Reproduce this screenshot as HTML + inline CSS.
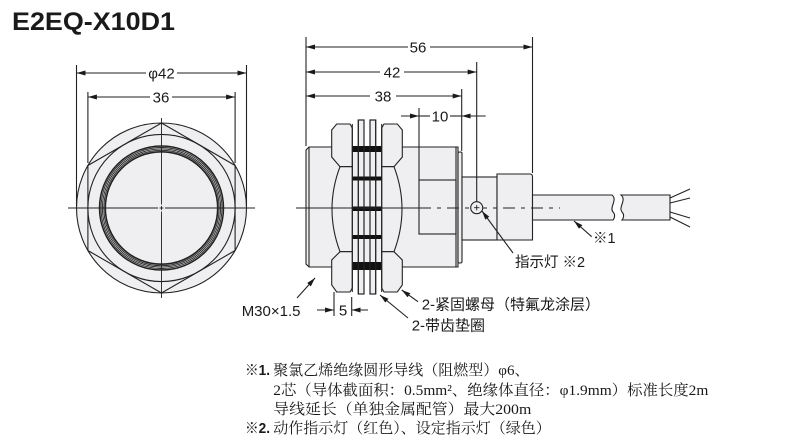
<!DOCTYPE html>
<html><head><meta charset="utf-8"><style>
html,body{margin:0;padding:0;background:#fff;}
svg{display:block;}
.s{font-family:"Liberation Sans","Noto Sans CJK SC",sans-serif;fill:#1a1a1a;}
.r{font-family:"Liberation Serif","Noto Serif CJK SC",serif;fill:#1a1a1a;}
</style></head><body>
<svg width="790" height="443" viewBox="0 0 790 443" xmlns="http://www.w3.org/2000/svg">
<defs>
<marker id="a" markerWidth="9" markerHeight="5" refX="9" refY="2.5" orient="auto" markerUnits="userSpaceOnUse"><path d="M0,0 L9,2.5 L0,5 z" fill="#1a1a1a"/></marker>
</defs>
<rect width="790" height="443" fill="#fff"/>

<!-- Title -->
<text x="12" y="30" class="s" font-size="25" font-weight="bold" fill="#111" textLength="163" lengthAdjust="spacingAndGlyphs">E2EQ-X10D1</text>

<!-- ===== FRONT VIEW ===== -->
<g stroke="#222" stroke-width="1.1" fill="none">
<circle cx="161.5" cy="208" r="85" fill="#efeff1"/>
<polygon points="161.5,123 235.1,165.5 235.1,250.5 161.5,293 87.9,250.5 87.9,165.5"/>
<circle cx="161.5" cy="208" r="73.6"/>
<circle cx="161.5" cy="208" r="62" stroke-width="1.5"/>
<circle cx="161.5" cy="208" r="60.5" stroke-width="0.9"/>
<circle cx="161.5" cy="208" r="59.1" stroke-width="0.9"/>
<circle cx="161.5" cy="208" r="57.7" stroke-width="0.9"/>
<circle cx="161.5" cy="208" r="56.2" stroke-width="1.6"/>
<!-- centre lines -->
<g stroke-width="0.9">
<line x1="68" y1="208" x2="158" y2="208"/>
<line x1="165" y1="208" x2="255" y2="208"/>
<line x1="161.5" y1="118" x2="161.5" y2="204.5"/>
<line x1="161.5" y1="211.5" x2="161.5" y2="298"/>
<line x1="159.5" y1="208" x2="163.5" y2="208"/>
<line x1="161.5" y1="206" x2="161.5" y2="210"/>
</g>
<!-- extension lines -->
<line x1="76.5" y1="65" x2="76.5" y2="206"/>
<line x1="246.5" y1="65" x2="246.5" y2="206"/>
<line x1="87.9" y1="92" x2="87.9" y2="163"/>
<line x1="235.1" y1="92" x2="235.1" y2="163"/>
<!-- dim lines -->
<line x1="146" y1="73" x2="76.5" y2="73" marker-end="url(#a)"/>
<line x1="177" y1="73" x2="246.5" y2="73" marker-end="url(#a)"/>
<line x1="150" y1="97" x2="87.9" y2="97" marker-end="url(#a)"/>
<line x1="172" y1="97" x2="235.1" y2="97" marker-end="url(#a)"/>
</g>
<text x="161.5" y="78.5" class="s" font-size="15" text-anchor="middle">φ42</text>
<text x="161" y="102.5" class="s" font-size="15" text-anchor="middle">36</text>

<!-- ===== SIDE VIEW ===== -->
<g stroke="#222" stroke-width="1.1" fill="#efeff1">
<!-- body -->
<polygon points="306,150 309,147 458,147 458,267 309,267 306,264"/>
<line x1="309" y1="147" x2="309" y2="267"/>
<line x1="456" y1="147" x2="456" y2="267"/>
<rect x="458" y="152" width="4" height="111" rx="1.5"/>
<rect x="419" y="180" width="37" height="54" fill="none"/>
<!-- indicator housing & boot -->
<rect x="462" y="177" width="35" height="63"/>
<path d="M497,174 L530,174 Q532.5,174 532.5,177 L532.5,240 L497,240 Z"/>
<!-- cable -->
<path d="M532.5,195 L612,195 C618,200 609,207 613,212 C616,215 614,219 613,220 L532.5,220 Z"/>
<path d="M670,195 L621,195 C627,200 618,207 622,212 C625,215 623,219 622,220 L670,220 Z"/>
<g fill="none">
<line x1="670" y1="198" x2="690" y2="189"/>
<line x1="670" y1="203" x2="690" y2="198"/>
<line x1="670" y1="212" x2="690" y2="218"/>
<line x1="670" y1="217" x2="690" y2="227"/>
</g>
<!-- nuts -->
<path d="M336.7,124 L350,124 L352.3,128 L352.3,166.7 L340,166.7 L331.7,157 L331.7,130 Z"/>
<path d="M340,166.7 L352.3,166.7 L352.3,251.7 L340,251.7 Q324,209 340,166.7 Z"/>
<path d="M340,251.7 L352.3,251.7 L352.3,288 L350,292 L336.7,292 L331.7,285 L331.7,260 Z"/>
<path d="M397.3,124 L384,124 L381.7,128 L381.7,166.7 L394,166.7 L402.3,157 L402.3,130 Z"/>
<path d="M394,166.7 L381.7,166.7 L381.7,251.7 L394,251.7 Q410,209 394,166.7 Z"/>
<path d="M394,251.7 L381.7,251.7 L381.7,288 L384,292 L397.3,292 L402.3,285 L402.3,260 Z"/>
<!-- washers -->
<rect x="358.3" y="120" width="5.7" height="174"/>
<rect x="370" y="120" width="5.7" height="174"/>
</g>
<!-- thread black bars -->
<g fill="#111">
<rect x="352.3" y="146" width="29.4" height="6"/>
<rect x="352.3" y="176.5" width="29.4" height="4"/>
<rect x="352.3" y="206.5" width="29.4" height="4.5"/>
<rect x="352.3" y="235" width="29.4" height="4"/>
<rect x="352.3" y="262" width="29.4" height="8"/>
</g>
<g stroke="#222" stroke-width="1.1" fill="none">
<rect x="358.3" y="120" width="5.7" height="174"/>
<rect x="370" y="120" width="5.7" height="174"/>
<line x1="352.3" y1="124" x2="352.3" y2="292"/>
<line x1="381.7" y1="124" x2="381.7" y2="292"/>
<!-- centre line -->
<line x1="296" y1="208" x2="419" y2="208" stroke-width="0.9"/>
<line x1="419" y1="208" x2="560" y2="208" stroke-width="0.9" stroke-dasharray="12,6,4,6"/>
</g>
<!-- indicator circle -->
<circle cx="476.7" cy="207.7" r="6" fill="#efeff1" stroke="#222" stroke-width="1.1"/>
<g stroke="#222" stroke-width="0.9">
<line x1="474" y1="207.7" x2="479.4" y2="207.7"/>
<line x1="476.7" y1="205" x2="476.7" y2="210.4"/>
</g>

<!-- side dimensions -->
<g stroke="#222" stroke-width="1.1" fill="none">
<line x1="306" y1="37" x2="306" y2="146"/>
<line x1="532.5" y1="37" x2="532.5" y2="173"/>
<line x1="476.7" y1="62" x2="476.7" y2="201.5"/>
<line x1="461.7" y1="89" x2="461.7" y2="151"/>
<line x1="419" y1="108" x2="419" y2="180"/>
<line x1="408" y1="47" x2="306" y2="47" marker-end="url(#a)"/>
<line x1="430" y1="47" x2="532.5" y2="47" marker-end="url(#a)"/>
<line x1="380" y1="72" x2="306" y2="72" marker-end="url(#a)"/>
<line x1="404" y1="72" x2="476.7" y2="72" marker-end="url(#a)"/>
<line x1="370" y1="96" x2="306" y2="96" marker-end="url(#a)"/>
<line x1="396" y1="96" x2="461.7" y2="96" marker-end="url(#a)"/>
<line x1="401" y1="116" x2="419" y2="116" marker-end="url(#a)"/>
<line x1="419" y1="116" x2="430" y2="116"/>
<line x1="485.7" y1="116" x2="461.7" y2="116" marker-end="url(#a)"/>
<line x1="461.7" y1="116" x2="450" y2="116"/>
<!-- 5 dim -->
<line x1="334" y1="292" x2="334" y2="316"/>
<line x1="351.7" y1="297" x2="351.7" y2="316"/>
<line x1="317" y1="310" x2="334" y2="310" marker-end="url(#a)"/>
<line x1="368" y1="310" x2="351.7" y2="310" marker-end="url(#a)"/>
<!-- leaders -->
<line x1="297" y1="298" x2="315" y2="278" marker-end="url(#a)"/>
<line x1="418" y1="301.7" x2="401.7" y2="290" marker-end="url(#a)"/>
<line x1="408" y1="318" x2="380" y2="295" marker-end="url(#a)"/>
<line x1="513" y1="253" x2="482" y2="211" marker-end="url(#a)"/>
<line x1="591.7" y1="236.7" x2="574" y2="221" marker-end="url(#a)"/>
</g>
<text x="418" y="52.5" class="s" font-size="15" text-anchor="middle">56</text>
<text x="392" y="77.5" class="s" font-size="15" text-anchor="middle">42</text>
<text x="383" y="101.5" class="s" font-size="15" text-anchor="middle">38</text>
<text x="440" y="121.5" class="s" font-size="15" text-anchor="middle">10</text>
<text x="343" y="315.5" class="s" font-size="15" text-anchor="middle">5</text>

<text x="241.7" y="316" class="s" font-size="15">M30×1.5</text>
<text x="421.7" y="309.5" class="s" font-size="15">2-紧固螺母（特氟龙涂层）</text>
<text x="411.7" y="330.5" class="s" font-size="15">2-带齿垫圈</text>
<text x="515" y="267" class="s" font-size="14.5">指示灯 ※2</text>
<text x="593" y="243" class="s" font-size="14.5">※1</text>

<!-- notes -->
<text x="245" y="375" class="s" font-size="15" font-weight="bold" textLength="25" lengthAdjust="spacingAndGlyphs">※1.</text>
<text x="273.3" y="375" class="r" font-size="15">聚氯乙烯绝缘圆形导线（阻燃型）φ6、</text>
<text x="273.3" y="395" class="r" font-size="15" textLength="435" lengthAdjust="spacingAndGlyphs">2芯（导体截面积：0.5mm²、绝缘体直径：φ1.9mm）标准长度2m</text>
<text x="273.3" y="414" class="r" font-size="15" textLength="258" lengthAdjust="spacingAndGlyphs">导线延长（单独金属配管）最大200m</text>
<text x="245" y="433" class="s" font-size="15" font-weight="bold" textLength="25" lengthAdjust="spacingAndGlyphs">※2.</text>
<text x="273.3" y="433" class="r" font-size="15">动作指示灯（红色）、设定指示灯（绿色）</text>
</svg>
</body></html>
